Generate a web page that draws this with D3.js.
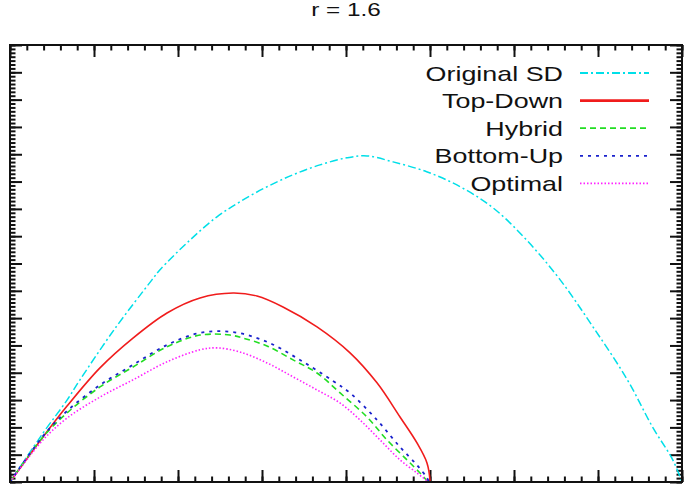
<!DOCTYPE html>
<html>
<head>
<meta charset="utf-8">
<script src="https://cdn.jsdelivr.net/npm/d3@7"></script>
<style>
  body { margin: 0; background: #fff; }
  text { font-family: "Liberation Sans", Arial, sans-serif; fill: #111; }
</style>
</head>
<body>
<svg width="685" height="486"></svg>
<script>
// curve samples, x in [0,8], y in [0,16]
var origX = [0, 0.393, 0.679, 0.833, 1.238, 1.69, 1.786, 2.143, 2.464, 2.738, 3.06, 3.37, 3.69, 4.01, 4.25, 4.56, 4.96, 5.36, 5.75, 6.15, 6.55, 6.94, 7.35, 7.65, 7.89, 8];
var origY = [0, 1.79, 3.0, 3.74, 5.57, 7.40, 7.77, 8.86, 9.71, 10.26, 10.81, 11.25, 11.61, 11.87, 11.94, 11.72, 11.36, 10.81, 10.04, 8.86, 7.40, 5.68, 3.74, 2.01, 0.81, 0];

var topX = [0, 0.393, 0.679, 1.071, 1.464, 1.869, 2.262, 2.655, 2.94, 3.25, 3.655, 4.048, 4.369, 4.643, 4.845, 4.964, 5.0, 5.0];
var topY = [0, 1.65, 2.78, 4.18, 5.27, 6.19, 6.74, 6.92, 6.81, 6.41, 5.68, 4.73, 3.63, 2.38, 1.43, 0.70, 0.07, 0];

var hybX = [0, 0.393, 0.679, 1.071, 1.464, 1.869, 2.262, 2.619, 2.774, 3.06, 3.37, 3.655, 3.93, 4.25, 4.488, 4.726, 4.881, 4.976];
var hybY = [0, 1.65, 2.53, 3.48, 4.21, 4.95, 5.38, 5.38, 5.27, 4.98, 4.47, 3.99, 3.26, 2.38, 1.54, 0.81, 0.33, 0];

var botX = [0, 0.393, 0.679, 1.071, 1.464, 1.869, 2.262, 2.655, 3.06, 3.452, 3.845, 4.048, 4.369, 4.643, 4.845, 4.964, 4.988];
var botY = [0, 1.68, 2.60, 3.55, 4.29, 5.02, 5.46, 5.49, 5.13, 4.47, 3.70, 3.26, 2.27, 1.28, 0.62, 0.15, 0];

var optX = [0, 0.393, 0.679, 1.071, 1.464, 1.869, 2.262, 2.464, 2.738, 3.06, 3.37, 3.655, 3.93, 4.167, 4.405, 4.643, 4.845, 4.964, 4.976];
var optY = [0, 1.54, 2.34, 3.11, 3.74, 4.40, 4.84, 4.91, 4.76, 4.36, 3.85, 3.37, 2.89, 2.27, 1.54, 0.81, 0.33, 0.04, 0];

var seriesNames = ["Original SD", "Top-Down", "Hybrid", "Bottom-Up", "Optimal"];
var title = "r = 1.6";

(function() {
  var series = [
    {name: seriesNames[0], xs: origX, ys: origY, color: "#00dfe8", dash: "8,3,2,3", w: 1.5},
    {name: seriesNames[1], xs: topX, ys: topY, color: "#f01c1c", dash: null, w: 1.6},
    {name: seriesNames[2], xs: hybX, ys: hybY, color: "#22dd22", dash: "6,4", w: 1.6},
    {name: seriesNames[3], xs: botX, ys: botY, color: "#1a22cc", dash: "3,5", w: 1.8},
    {name: seriesNames[4], xs: optX, ys: optY, color: "#ff22ff", dash: "1.5,2", w: 1.6}
  ];

  var svg = d3.select("svg");
  var m = {left: 10, right: 682, top: 45, bottom: 482};

  var x = d3.scaleLinear().domain([0, 8]).range([m.left, m.right]);
  var y = d3.scaleLinear().domain([0, 16]).range([m.bottom, m.top]);

  var xMajor = d3.range(0, 8.001, 1);
  var xMinor = d3.range(0, 8.001, 0.2);
  var yMajor = d3.range(0, 16.001, 1);
  var yMinor = d3.range(0, 16.001, 1 / 7);

  function drawAxis(axisFn, isX, t) {
    [[xMinor, yMinor, 5.5], [xMajor, yMajor, 12]].forEach(function(s) {
      var g = svg.append("g")
        .attr("transform", t)
        .call(axisFn(isX ? x : y)
          .tickValues(isX ? s[0] : s[1])
          .tickSize(-s[2])
          .tickFormat(""));
      g.select(".domain").remove();
      g.selectAll("line").attr("stroke", "#111").attr("stroke-width", 2);
    });
  }

  drawAxis(d3.axisBottom, true, "translate(0," + m.bottom + ")");
  drawAxis(d3.axisTop, true, "translate(0," + m.top + ")");
  drawAxis(d3.axisLeft, false, "translate(" + m.left + ",0)");
  drawAxis(d3.axisRight, false, "translate(" + m.right + ",0)");

  var line = d3.line()
    .x(function(d) { return x(d[0]); })
    .y(function(d) { return y(d[1]); })
    .curve(d3.curveCatmullRom.alpha(0.5));

  series.forEach(function(s) {
    var pts = s.xs.map(function(v, j) { return [v, s.ys[j]]; });
    svg.append("path")
      .datum(pts)
      .attr("fill", "none")
      .attr("stroke", s.color)
      .attr("stroke-width", s.w)
      .attr("stroke-dasharray", s.dash)
      .attr("d", line);
  });

  // frame
  svg.append("rect")
    .attr("x", m.left).attr("y", m.top)
    .attr("width", m.right - m.left).attr("height", m.bottom - m.top)
    .attr("fill", "none").attr("stroke", "#111").attr("stroke-width", 2);

  // legend
  var legend = svg.append("g");
  series.forEach(function(s, i) {
    var cy = 73 + i * 27.6;
    legend.append("text")
      .attr("transform", "translate(563," + (cy + 7.5) + ") scale(1.28,1)")
      .attr("text-anchor", "end")
      .style("font-size", "21px")
      .text(s.name);
    legend.append("line")
      .attr("x1", 580).attr("x2", 649)
      .attr("y1", cy).attr("y2", cy)
      .attr("stroke", s.color)
      .attr("stroke-width", s.dash ? 1.8 : 2.6)
      .attr("stroke-dasharray", s.dash);
  });

  svg.append("text")
    .attr("transform", "translate(346,16) scale(1.28,1)")
    .attr("text-anchor", "middle")
    .style("font-size", "19px")
    .text(title);
})();
</script>
</body>
</html>
